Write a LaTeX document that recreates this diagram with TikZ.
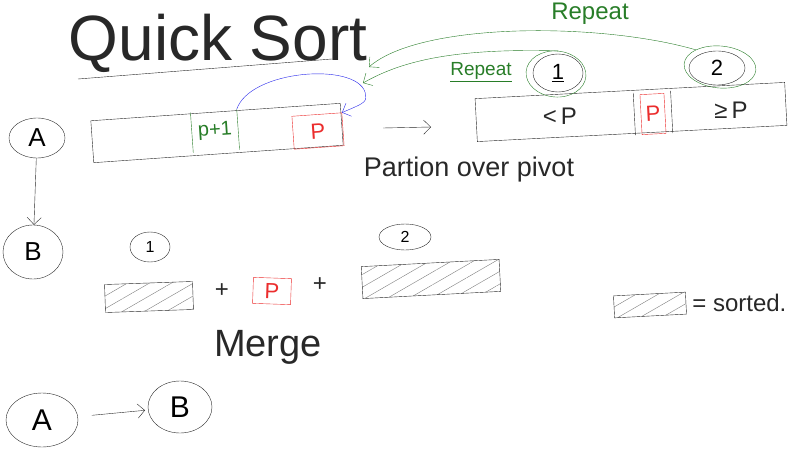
\documentclass[tikz,border=0pt]{standalone}
\usepackage{fontspec}
\setmainfont{Liberation Sans}
\definecolor{pen}{RGB}{40,40,40}
\definecolor{repgreen}{RGB}{40,125,40}
\definecolor{pivred}{RGB}{235,45,45}
\definecolor{linkblue}{RGB}{40,40,235}
\usetikzlibrary{arrows.meta,positioning,shapes.geometric,patterns.meta}
\tikzset{
  ring/.style={draw=pen, ellipse, thin, inner sep=0pt, font=\fontsize{26}{26}\selectfont},
  halo/.style={draw=repgreen, ellipse, thin, inner sep=0pt},
  arr/.style={draw=pen, thin, inner sep=0pt},
  pivbox/.style={draw=pivred, thin, inner sep=0pt, text=pivred,
              font=\fontsize{22}{22}\selectfont},
  sortedbox/.style={draw=pen, thin, inner sep=0pt,
              pattern={Lines[angle=30,distance=11pt,line width=0.4pt]}, pattern color=pen!60},
  word/.style={inner sep=0pt, text=pen},
  flow/.style={-{Straight Barb[length=2.5mm]}, thin},
}
\begin{document}
\begin{tikzpicture}[x=1pt,y=-1pt]
  \useasboundingbox (0,0) rectangle (803,471);
  % title
  \node[word, font=\fontsize{64}{64}\selectfont] (title) at (218,43) {Quick Sort};
  \coordinate (ulL) at (78,79);
  \coordinate (ulR) at (332,59);
  \draw[pen, thin] (ulL) -- (ulR);
  % step A: partition
  \node[ring, minimum width=56, minimum height=40] (stepA) at (37,138) {A};
  \node[ring, minimum width=60, minimum height=54] (stepB) at (33,252) {B};
  \draw[flow, pen] (stepA) -- (stepB);
  \node[arr, minimum width=250, minimum height=42, rotate=4] (arrIn) at (217,133) {};
  \node[word, minimum width=46, minimum height=40, rotate=4, text=repgreen,
        font=\fontsize{20}{20}\selectfont] (pnext) at (215,131) {p+1};
  \draw[repgreen, thin] (pnext.north west) -- (pnext.south west)
                        (pnext.north east) -- (pnext.south east);
  \node[pivbox, minimum width=50, minimum height=33, rotate=4] (pivA) at (318,131) {P};
  \coordinate (loopR) at (365,92);
  \draw[flow, linkblue] (pnext.north east) .. controls (250,70) and (355,62) .. (loopR)
        .. controls (367,102) .. (pivA.north east);
  \coordinate (partL) at (383,128);
  \coordinate (partR) at (431,127);
  \draw[flow, pen] (partL) -- (partR);
  \node[arr, minimum width=310, minimum height=43, rotate=3] (arrOut) at (631,112) {};
  \node[word, font=\fontsize{24}{24}\selectfont] (lessP) at (560,116) {<\,P};
  \node[word, minimum width=37, minimum height=42, rotate=3] (pivCell) at (653,113) {};
  \draw[pen, thin] (pivCell.north west) -- (pivCell.south west)
                   (pivCell.north east) -- (pivCell.south east);
  \node[pivbox, minimum width=24, minimum height=40, rotate=3] (pivOut) at (653,114) {P};
  \node[word, font=\fontsize{24}{24}\selectfont] (geqP) at (731,110) {≥\,P};
  \node[word, font=\fontsize{27}{27}\selectfont] (partLbl) at (469,170) {Partion over pivot};
  % repeat on both halves
  \node[ring, minimum width=50, minimum height=38, font=\fontsize{22}{22}\selectfont] (half1) at (558,73) {\underline{1}};
  \node[halo, minimum width=60, minimum height=46, rotate=-5] (halo1) at (556,74) {};
  \node[ring, minimum width=56, minimum height=34, font=\fontsize{22}{22}\selectfont] (half2) at (717,68) {2};
  \node[halo, minimum width=72, minimum height=42, rotate=-5] (halo2) at (720,67) {};
  \coordinate (tipOuter) at (369,67);
  \coordinate (tipInner) at (363,83);
  \draw[flow, repgreen] (halo2.north west) .. controls (600,22) and (420,22) .. (tipOuter);
  \draw[flow, repgreen] (halo1.north) .. controls (450,48) and (400,62) .. (tipInner);
  \node[word, text=repgreen, font=\fontsize{24}{24}\selectfont] (repTop) at (590,14) {Repeat};
  \node[word, text=repgreen, font=\fontsize{19}{19}\selectfont] (repLow) at (481,72) {\underline{Repeat}};
  % step B: merge
  \node[ring, minimum width=40, minimum height=30, font=\fontsize{16}{16}\selectfont] (num1) at (150,247) {1};
  \node[sortedbox, minimum width=88, minimum height=28, rotate=2] (sorted1) at (149,297) {};
  \node[word, font=\fontsize{24}{24}\selectfont] (plus1) at (222,291) {+};
  \node[pivbox, minimum width=38, minimum height=26, rotate=-2] (pivB) at (272,291) {P};
  \node[word, font=\fontsize{24}{24}\selectfont] (plus2) at (320,285) {+};
  \node[ring, minimum width=52, minimum height=26, font=\fontsize{16}{16}\selectfont] (num2) at (405,237) {2};
  \node[sortedbox, minimum width=138, minimum height=32, rotate=3] (sorted2) at (431,279) {};
  \node[word, font=\fontsize{38}{38}\selectfont] (merge) at (268,347) {Merge};
  % legend
  \node[sortedbox, minimum width=72, minimum height=22, rotate=3] (sortedKey) at (650,305) {};
  \node[word, font=\fontsize{24}{24}\selectfont, right=6pt of sortedKey] (sortedTxt) {= sorted.};
  % A then B
  \node[ring, minimum width=72, minimum height=54, font=\fontsize{30}{30}\selectfont] (orderA) at (42,420) {A};
  \node[ring, minimum width=64, minimum height=52, font=\fontsize{30}{30}\selectfont] (orderB) at (180,407) {B};
  \draw[flow, pen, shorten <=14pt, shorten >=3pt] (orderA) -- (orderB);
\end{tikzpicture}
\end{document}
